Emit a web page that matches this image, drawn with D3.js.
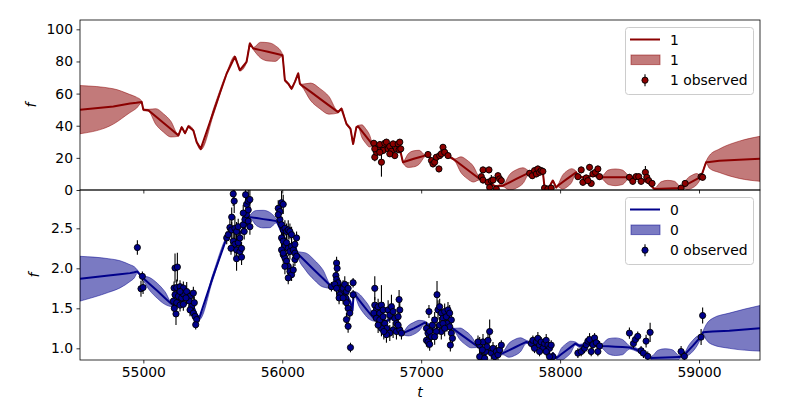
<!DOCTYPE html>
<html><head><meta charset="utf-8">
<script src="https://cdn.jsdelivr.net/npm/d3@7"></script>
<style>body{margin:0;background:#fff} text{font-family:"DejaVu Sans",sans-serif}</style>
</head><body><svg id="c" width="800" height="400"></svg>
<script>
// ---------- data ----------
const xTicks = [55000, 56000, 57000, 58000, 59000];
const yTicksTop = [0, 20, 40, 60, 80, 100];
const yTicksBottom = [1.0, 1.5, 2.0, 2.5];
const labelsTop = ["1", "1", "1 observed"];
const labelsBottom = ["0", "0", "0 observed"];

// series 0 model: time, mean, half-width of band
const t0 = [54544,54750,54832,54904,54935,54957,54990,55045,55100,55155,55211,55250,55276,55300,55324,55360,55384,55403,55500,55600,55659,55695,55743,55767,55815,55863,55911,55959,56010,56043,56067,56091,56107,56168,56230,56292,56354,56402,56430,56462,56491,56505,56515,56552,56590,56628,56666,56700,56740,56790,56830,56869,56908,56947,56986,57026,57060,57100,57133,57160,57200,57241,57280,57320,57360,57400,57430,57460,57500,57540,57589,57631,57673,57715,57757,57800,57850,57880,57900,57925,57950,57975,58008,58042,58076,58110,58140,58200,58250,58296,58347,58398,58449,58500,58540,58590,58630,58655,58706,58757,58808,58859,58895,58925,58955,58985,59015,59030,59050,59098,59218,59439];
const m0 = [1.87,1.91,1.925,1.94,1.95,1.96,1.89,1.805,1.72,1.63,1.54,1.63,1.58,1.55,1.60,1.52,1.42,1.38,1.89,2.38,2.50,2.44,2.55,2.64,2.628,2.615,2.603,2.59,2.40,2.30,2.25,2.30,2.19,2.085,1.98,1.875,1.77,1.80,1.72,1.65,1.58,1.47,1.69,1.605,1.52,1.44,1.36,1.40,1.33,1.38,1.30,1.19,1.22,1.25,1.285,1.32,1.28,1.22,1.30,1.34,1.28,1.23,1.18,1.13,1.08,1.03,1.00,0.97,0.99,0.92,0.94,0.975,1.01,1.045,1.08,1.06,1.06,1.05,0.95,0.90,0.93,0.88,0.925,0.97,1.015,1.06,1.03,1.05,1.05,1.03,1.025,1.02,1.015,1.01,0.99,0.95,0.91,0.88,0.882,0.885,0.887,0.89,0.92,0.975,1.03,1.09,1.15,1.20,1.203,1.21,1.22,1.25];
const s0 = [0.28,0.21,0.17,0.105,0.07,0.02,0.02,0.08,0.094,0.08,0.02,0.02,0.02,0.02,0.02,0.02,0.02,0.02,0.035,0.02,0.02,0.02,0.02,0.02,0.095,0.11,0.095,0.02,0.02,0.02,0.02,0.02,0.02,0.108,0.125,0.108,0.02,0.02,0.02,0.02,0.02,0.02,0.02,0.078,0.09,0.078,0.02,0.02,0.02,0.02,0.02,0.02,0.065,0.075,0.065,0.02,0.02,0.02,0.02,0.02,0.02,0.02,0.074,0.085,0.074,0.02,0.02,0.02,0.02,0.02,0.02,0.087,0.1,0.087,0.02,0.02,0.02,0.02,0.02,0.02,0.02,0.02,0.074,0.085,0.074,0.02,0.02,0.02,0.02,0.02,0.095,0.11,0.095,0.02,0.02,0.02,0.02,0.02,0.095,0.11,0.095,0.02,0.02,0.06,0.07,0.06,0.02,0.02,0.09,0.165,0.22,0.285];

// series 1 model
const t1 = [54544,54784,54904,54950,54988,55000,55036,55090,55144,55198,55252,55276,55300,55324,55360,55384,55413,55506,55600,55659,55695,55743,55767,55791,55844,55897,55950,56002,56019,56043,56067,56091,56115,56127,56139,56205,56270,56336,56402,56426,56462,56491,56510,56534,56546,56573,56600,56627,56654,56700,56750,56800,56845,56869,56908,56947,56986,57026,57049,57085,57133,57157,57193,57229,57241,57286,57331,57376,57421,57445,57480,57541,57565,57589,57637,57685,57733,57781,57816,57852,57876,57888,57912,57948,57972,57984,58017,58050,58083,58116,58128,58180,58230,58296,58347,58398,58449,58500,58560,58631,58679,58727,58775,58823,58871,58883,58916,58950,58983,59015,59051,59075,59146,59290,59439];
const m1 = [50,52,53.8,54.3,54.8,50,49.6,45.7,41.8,37.9,34,39,35.4,39.6,37,29.8,25.6,49,72.5,82.9,74.6,79.8,91.2,88.1,87.05,86,84.95,83.9,68.3,66.2,63.1,67.3,72.5,66.2,65.2,61.05,56.9,52.7,48.5,50.6,41.2,38.1,28.7,39.1,39.6,36.65,33.7,30.7,27.7,26,27,25.5,26,17.3,18.35,19.4,20.4,21.4,22.5,16.2,21.4,26.6,21.4,19.4,18.7,15.75,12.8,9.85,6.9,5.8,4.5,2.1,2.7,2.7,4.8,6.9,8.95,11,10,11,11,1.6,0.6,5.8,1.6,2.7,4.8,6.9,8.95,11,8.9,7.5,9,7.9,7.9,7.9,7.9,7.9,7,4.8,0.6,0.8,1.0,1.15,1.3,2.1,3.65,5.2,6.75,8.3,17.3,17.5,18.2,18.8,19.4];
const s1 = [15,11,5.6,3.5,0.6,0.6,0.6,4.9,5.7,4.9,0.6,0.6,0.6,0.6,0.6,0.6,0.6,1.8,0.6,0.6,0.6,0.6,0.6,0.6,4.9,5.7,4.9,0.6,0.6,0.6,0.6,0.6,0.6,0.6,0.6,5.5,6.3,5.5,0.6,0.6,0.6,0.6,0.6,0.6,0.6,3.9,4.5,3.9,0.6,0.6,0.6,0.6,0.6,0.6,4.3,5,4.3,0.6,0.6,0.6,0.6,0.6,0.6,0.6,0.6,4.9,5.7,4.9,0.6,0.6,0.6,0.6,0.6,0.6,4.9,5.7,4.9,0.6,0.6,0.6,0.6,0.6,0.6,0.6,0.6,0.6,4.3,5,4.3,0.6,0.6,0.6,0.6,0.6,4.5,5.2,4.5,0.6,0.6,0.6,0.6,4.3,5,4.3,0.6,0.6,3.5,4,3.5,0.6,0.6,4,7.3,11.6,14];

// observations [t, f, err]
const obs0 = [
[54957,2.26,0.09],[54993,1.90,0.06],[54983,1.745,0.1],[54998,1.76,0.08],
[55228,2.004,0.18],[55245,2.016,0.18],[55221,1.754,0.08],[55240,1.76,0.1],[55264,1.77,0.08],[55288,1.754,0.08],[55228,1.67,0.08],[55252,1.65,0.1],[55276,1.63,0.08],[55216,1.59,0.08],[55240,1.57,0.08],[55264,1.54,0.08],[55288,1.68,0.08],[55312,1.71,0.12],[55336,1.65,0.08],[55360,1.69,0.08],[55331,1.59,0.08],[55348,1.525,0.08],[55367,1.57,0.08],[55336,1.48,0.08],[55360,1.44,0.08],[55372,1.40,0.08],[55384,1.36,0.06],[55377,1.295,0.06],[55235,1.43,0.14],[55288,1.55,0.08],[55307,1.63,0.08],[55264,1.71,0.08],[55223,1.50,0.08],
[55600,2.38,0.08],[55611,2.42,0.08],[55623,2.51,0.1],[55636,2.48,0.1],[55659,2.50,0.15],[55671,2.46,0.12],[55683,2.52,0.1],[55647,2.34,0.12],[55659,2.30,0.15],[55683,2.32,0.1],[55695,2.38,0.1],[55671,2.23,0.12],[55695,2.21,0.1],[55707,2.25,0.08],[55671,2.12,0.15],[55707,2.14,0.1],[55631,2.25,0.08],[55636,2.64,0.12],[55654,2.84,0.15],[55647,2.93,0.15],[55719,2.545,0.1],[55731,2.61,0.12],[55743,2.67,0.12],[55755,2.73,0.15],[55719,2.69,0.1],[55743,2.80,0.15],[55755,2.84,0.15],[55767,2.86,0.15],[55736,2.92,0.15],[55755,2.59,0.1],[55767,2.52,0.1],[55726,2.46,0.1],
[55971,2.75,0.1],[55983,2.71,0.1],[55995,2.82,0.15],[56007,2.80,0.12],[55983,2.61,0.1],[55995,2.545,0.1],[56007,2.48,0.1],[56019,2.50,0.1],[56031,2.46,0.1],[56043,2.48,0.12],[56055,2.46,0.1],[56067,2.42,0.1],[55995,2.38,0.1],[56007,2.34,0.1],[56019,2.275,0.1],[56031,2.32,0.1],[56043,2.25,0.1],[56055,2.21,0.1],[56067,2.275,0.1],[56079,2.23,0.1],[56091,2.19,0.08],[56103,2.38,0.08],[56091,2.30,0.1],[55995,2.23,0.1],[56007,2.17,0.1],[56019,2.13,0.1],[56031,2.09,0.1],[56043,2.025,0.1],[56055,1.96,0.08],[56067,1.92,0.08],[56079,1.98,0.08],[56043,1.88,0.08],[56091,2.11,0.08],[56103,2.15,0.08],[56019,2.025,0.1],[56007,2.19,0.1],[55971,2.67,0.1],
[56354,1.77,0.06],[56391,2.066,0.08],[56395,2.00,0.08],[56386,1.91,0.08],[56391,1.86,0.08],[56402,1.82,0.08],[56378,1.80,0.08],[56414,1.75,0.08],[56426,1.71,0.1],[56414,1.67,0.08],[56438,1.75,0.1],[56450,1.80,0.1],[56462,1.71,0.08],[56474,1.75,0.08],[56457,1.63,0.08],[56462,1.57,0.08],[56474,1.50,0.08],[56486,1.44,0.08],[56462,1.36,0.08],[56474,1.275,0.08],[56491,1.01,0.06],[56510,1.82,0.06],[56510,1.67,0.06],[56391,1.75,0.08],[56409,1.63,0.08],[56438,1.63,0.08],
[56666,1.75,0.15],[56666,1.54,0.1],[56678,1.48,0.1],[56659,1.44,0.08],[56690,1.52,0.1],[56702,1.44,0.1],[56714,1.54,0.25],[56726,1.48,0.1],[56678,1.375,0.08],[56702,1.355,0.1],[56726,1.395,0.1],[56738,1.31,0.1],[56750,1.25,0.1],[56714,1.25,0.1],[56762,1.48,0.12],[56774,1.415,0.1],[56786,1.52,0.15],[56798,1.46,0.1],[56810,1.375,0.1],[56822,1.31,0.1],[56834,1.395,0.1],[56841,1.61,0.12],[56846,1.48,0.1],[56798,1.23,0.1],[56774,1.19,0.1],[56750,1.17,0.1],[56822,1.21,0.1],[56846,1.23,0.08],[56858,1.19,0.08],[56834,1.29,0.1],[56731,1.21,0.1],[56690,1.29,0.1],
[57056,1.46,0.08],[57038,1.25,0.08],[57049,1.19,0.08],[57061,1.21,0.08],[57074,1.145,0.08],[57038,1.10,0.08],[57049,1.08,0.08],[57061,1.05,0.08],[57081,1.29,0.1],[57097,1.355,0.1],[57114,1.67,0.17],[57121,1.48,0.12],[57133,1.52,0.1],[57145,1.44,0.1],[57157,1.375,0.1],[57169,1.46,0.1],[57181,1.395,0.1],[57193,1.48,0.1],[57205,1.44,0.1],[57217,1.355,0.08],[57186,1.31,0.1],[57205,1.27,0.08],[57217,1.19,0.08],[57225,1.125,0.08],[57210,1.04,0.08],[57133,1.29,0.1],[57145,1.21,0.1],[57109,1.21,0.1],[57097,1.145,0.1],[57157,1.31,0.1],[57169,1.25,0.1],
[57421,1.04,0.1],[57433,0.895,0.08],[57445,1.08,0.1],[57464,0.96,0.1],[57481,1.10,0.1],[57493,1.21,0.15],[57505,0.94,0.08],[57517,1.00,0.08],[57529,0.895,0.08],[57541,0.96,0.08],[57553,0.92,0.08],[57565,0.98,0.08],[57577,1.04,0.06],[57421,0.895,0.08],[57457,0.875,0.08],[57473,1.02,0.08],[57409,1.08,0.08],[57440,0.98,0.08],
[57793,1.06,0.06],[57804,1.10,0.06],[57816,1.00,0.06],[57829,1.08,0.06],[57840,1.125,0.08],[57852,1.04,0.06],[57864,1.08,0.06],[57876,1.00,0.06],[57888,1.06,0.06],[57900,1.10,0.08],[57912,1.04,0.06],[57924,1.00,0.06],[57936,1.04,0.06],[57900,0.96,0.06],[57948,0.895,0.06],[57924,0.895,0.06],[57852,0.96,0.06],
[58128,0.94,0.06],[58152,0.96,0.06],[58176,1.00,0.06],[58188,1.045,0.06],[58200,1.09,0.06],[58212,1.11,0.08],[58224,0.96,0.06],[58236,1.045,0.06],[58248,1.13,0.06],[58260,1.07,0.06],[58272,0.96,0.06],[58284,1.03,0.06],
[58499,1.19,0.07],[58528,1.06,0.06],[58542,1.11,0.06],[58559,1.15,0.06],[58583,0.97,0.06],[58600,0.94,0.06],[58619,1.09,0.08],[58631,0.90,0.06],[58648,1.20,0.12],
[58871,0.96,0.07],[58895,0.90,0.06],[59015,1.14,0.1],[59026,1.41,0.1]
];
const obs1 = [
[56659,29.1,2],[56666,20.4,2.5],[56678,23.5,2],[56690,26.6,2],[56702,28.3,2],[56714,17.3,9],[56726,24.6,2],[56738,29.1,2],[56750,29.8,2],[56762,25.6,2],[56774,27.1,2],[56786,24.1,2],[56798,28.7,2],[56810,21.4,2],[56822,25.6,2],[56834,28.7,2],[56841,25,2],[56666,25.6,2],[56702,23.5,2],[56774,22.5,2],[56846,29.8,2],[56853,25.6,2],
[57049,22.1,2],[57074,18.3,2],[57085,16.2,2],[57097,17.3,2],[57109,20.4,2],[57128,13.1,2],[57133,21.4,2],[57145,22.5,2],[57157,26.6,2],[57169,23.5,2],[57193,21.4,2],
[57445,12.5,2],[57488,12.5,2],[57433,8.3,2],[57445,6.2,2],[57481,4.8,2],[57493,1.6,2],[57505,5.8,3.5],[57517,6.2,2],[57541,0.6,2],[57553,8.9,2],[57565,6.9,2],[57577,5.8,2],
[57781,10.4,2],[57800,8.9,2],[57816,12.1,2],[57829,10,2],[57840,13.1,2],[57852,11,2],[57864,12.1,2],[57876,11.6,2],[57888,1.2,2],[57912,0.6,2],[57936,1.2,2],
[58128,8.3,2],[58152,12.5,2],[58164,4.8,2],[58188,7.5,2],[58212,14.1,2],[58224,4.1,2],[58236,10,2],[58255,11,2],[58272,13.1,2],[58284,8.3,2],[58200,5.8,2],
[58499,7.9,2],[58523,5.4,2],[58547,8.3,2],[58566,8.3,2],[58583,5.4,2],[58614,11,4],[58624,7.9,2],[58638,5.8,2],[58662,4.1,2],
[58871,1.2,2],[58900,4.1,2],[59015,8.3,2],[59026,7.9,2]
];

// ---------- drawing ----------
const svg = d3.select("#c");
const FS = "13.9px";
const L = 80, R = 760;
const x = d3.scaleLinear().domain([54544, 59439]).range([L, R]);

const panels = [
  {top: 20, bot: 190, y: d3.scaleLinear().domain([0, 105.8]).range([190, 20]),
   t: t1, m: m1, s: s1, obs: obs1, color: "#8b0000", ticks: yTicksTop, fmt: d3.format("d"),
   labels: labelsTop, id: "cp1", xlab: false, ylabX: 35.5},
  {top: 190, bot: 360, y: d3.scaleLinear().domain([0.854, 2.979]).range([360, 190]),
   t: t0, m: m0, s: s0, obs: obs0, color: "#00008b", ticks: yTicksBottom, fmt: d3.format(".1f"),
   labels: labelsBottom, id: "cp0", xlab: true, ylabX: 39}
];

const defs = svg.append("defs");
panels.forEach(p => {
  defs.append("clipPath").attr("id", p.id).append("rect")
    .attr("x", L).attr("y", p.top).attr("width", R - L).attr("height", p.bot - p.top);
});

panels.forEach(p => {
  const y = p.y;
  const g = svg.append("g").attr("clip-path", `url(#${p.id})`);
  const idx = d3.range(p.t.length);
  const area = d3.area().x(i => x(p.t[i])).y0(i => y(p.m[i] - p.s[i])).y1(i => y(p.m[i] + p.s[i]))
    .curve(d3.curveMonotoneX);
  g.append("path").attr("d", area(idx)).attr("fill", p.color).attr("fill-opacity", 0.52)
    .attr("stroke", p.color).attr("stroke-opacity", 0.5).attr("stroke-width", 1);
  const line = d3.line().x(i => x(p.t[i])).y(i => y(p.m[i]));
  g.append("path").attr("d", line(idx)).attr("fill", "none").attr("stroke", p.color)
    .attr("stroke-width", 2).attr("stroke-linejoin", "round");
  g.selectAll("line.eb").data(p.obs).enter().append("line")
    .attr("x1", d => x(d[0])).attr("x2", d => x(d[0]))
    .attr("y1", d => y(d[1] - d[2])).attr("y2", d => y(d[1] + d[2]))
    .attr("stroke", "#000").attr("stroke-width", 1.1);
  g.selectAll("circle").data(p.obs).enter().append("circle")
    .attr("cx", d => x(d[0])).attr("cy", d => y(d[1])).attr("r", 3.1)
    .attr("fill", p.color).attr("stroke", "#000").attr("stroke-width", 0.9);

  // axes
  const ya = svg.append("g").attr("transform", `translate(${L},0)`)
    .call(d3.axisLeft(y).tickValues(p.ticks).tickFormat(p.fmt).tickSize(3.5).tickPadding(3.5));
  const xa = svg.append("g").attr("transform", `translate(0,${p.bot})`)
    .call(d3.axisBottom(x).tickValues(xTicks).tickFormat(p.xlab ? d3.format("d") : () => "")
      .tickSize(3.5).tickPadding(3.5));
  [ya, xa].forEach(a => {
    a.select(".domain").remove();
    a.selectAll("line").attr("stroke", "#000").attr("stroke-width", 0.8);
    a.selectAll("text").attr("font-size", FS).attr("fill", "#000")
      .attr("font-family", "DejaVu Sans, sans-serif");
  });
  svg.append("rect").attr("x", L).attr("y", p.top).attr("width", R - L).attr("height", p.bot - p.top)
    .attr("fill", "none").attr("stroke", "#000").attr("stroke-width", 0.8);

  // y label
  svg.append("text").attr("transform", `translate(${p.ylabX},${(p.top + p.bot) / 2}) rotate(-90)`)
    .attr("text-anchor", "middle").attr("font-size", FS).attr("font-style", "italic").text("f");

  // legend
  const ly = p.top + 7.5;
  const lg = svg.append("g");
  lg.append("rect").attr("x", 625.5).attr("y", ly).attr("width", 128).attr("height", 67)
    .attr("rx", 3).attr("fill", "#fff").attr("fill-opacity", 0.8).attr("stroke", "#cccccc").attr("stroke-width", 1);
  const rows = [ly + 12, ly + 32.3, ly + 52.7];
  lg.append("line").attr("x1", 630).attr("x2", 660).attr("y1", rows[0]).attr("y2", rows[0])
    .attr("stroke", p.color).attr("stroke-width", 2);
  lg.append("rect").attr("x", 631).attr("y", rows[1] - 4.8).attr("width", 29).attr("height", 9.6)
    .attr("fill", p.color).attr("fill-opacity", 0.52).attr("stroke", p.color).attr("stroke-opacity", 0.5);
  lg.append("line").attr("x1", 645).attr("x2", 645).attr("y1", rows[2] - 6).attr("y2", rows[2] + 6)
    .attr("stroke", "#000").attr("stroke-width", 1.1);
  lg.append("circle").attr("cx", 645).attr("cy", rows[2]).attr("r", 3.1)
    .attr("fill", p.color).attr("stroke", "#000").attr("stroke-width", 0.9);
  p.labels.forEach((lab, i) => {
    lg.append("text").attr("x", 670).attr("y", rows[i] + 5).attr("font-size", FS).text(lab);
  });
});

svg.append("text").attr("x", (L + R) / 2).attr("y", 397).attr("text-anchor", "middle")
  .attr("font-size", FS).attr("font-style", "italic").text("t");
</script></body></html>
